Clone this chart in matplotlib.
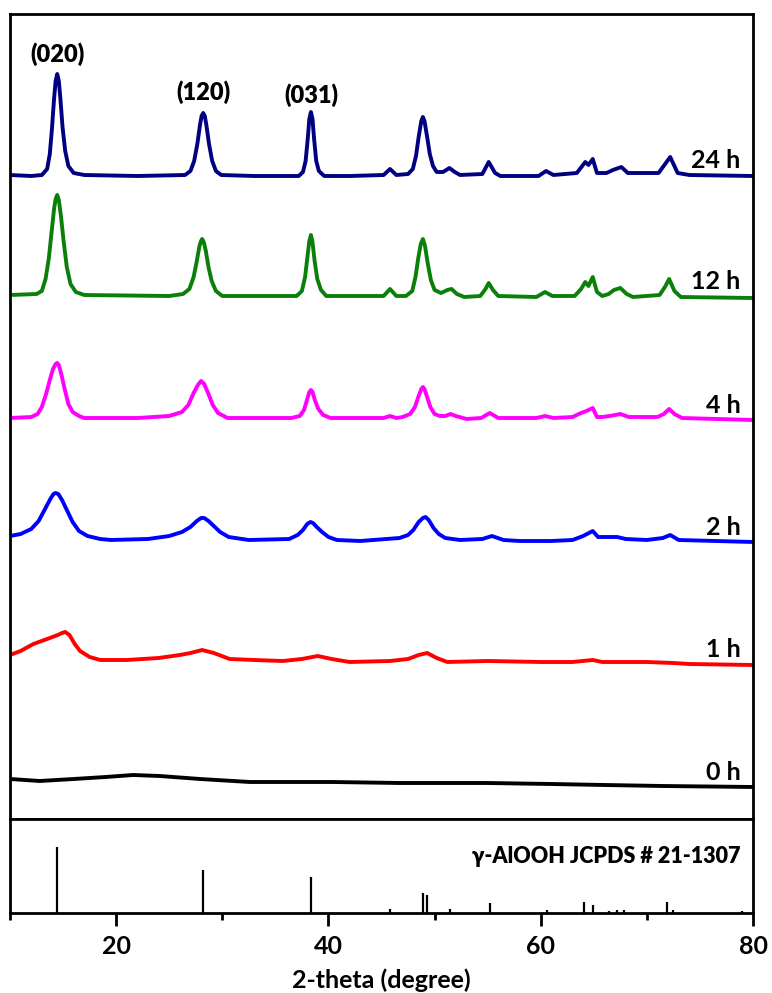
import matplotlib
matplotlib.use('Agg')
import matplotlib.pyplot as plt

plt.rcParams['font.family'] = ['Lato', 'DejaVu Sans']
plt.rcParams['font.weight'] = 'bold'

# ---------------- data ----------------
# 2-theta (degree) and stacked intensity (a.u., offsets included)
tt_24h = [10, 12.0, 13.0, 13.5, 13.75, 13.95, 14.15, 14.3, 14.45, 14.6, 14.75, 14.95, 15.2, 15.5, 16.0, 17.0, 22,
          26.5, 27.0, 27.35, 27.65, 27.9, 28.05, 28.2, 28.35, 28.5, 28.75, 29.05, 29.4, 29.9, 33,
          37.2, 37.6, 37.85, 38.05, 38.2, 38.35, 38.5, 38.65, 38.85, 39.1, 39.6, 42,
          45.2, 45.8, 46.4, 47.5, 47.95, 48.25, 48.5, 48.75, 48.9, 49.05, 49.3, 49.55, 49.85, 50.2,
          50.8, 51.4, 51.9, 52.4, 54.5, 55.1, 55.7, 56.2, 59.8, 60.5, 61.2,
          63.4, 64.2, 64.5, 64.9, 65.3, 66.2, 66.8, 67.6, 68.2, 71.1, 72.2, 72.9, 74, 80]
i_24h = [644, 643, 644, 650, 665, 690, 720, 738, 745, 738, 720, 692, 668, 653, 646, 644, 643,
         644, 648, 658, 675, 694, 703, 706, 703, 694, 675, 658, 648, 644, 643,
         643, 647, 658, 680, 700, 707, 700, 680, 658, 648, 643, 643,
         644, 650, 644, 645, 650, 663, 682, 698, 702, 698, 682, 665, 653, 647,
         647, 651, 647, 644, 645, 657, 646, 643, 643, 648, 644,
         646, 657, 654, 660, 646, 646, 649, 652, 646, 646, 662, 646, 644, 643]

tt_12h = [10, 12.5, 13.0, 13.35, 13.65, 13.9, 14.15, 14.3, 14.45, 14.6, 14.8, 15.05, 15.35, 15.7, 16.2, 17.0, 25,
          26.3, 26.9, 27.3, 27.6, 27.85, 28.0, 28.1, 28.25, 28.45, 28.7, 29.0, 29.4, 30.0,
          37.0, 37.5, 37.8, 38.0, 38.2, 38.35, 38.5, 38.7, 38.95, 39.3, 39.8,
          45.2, 45.8, 46.4, 47.3, 47.9, 48.2, 48.45, 48.7, 48.9, 49.1, 49.35, 49.65, 50.0,
          50.6, 51.2, 51.6, 52.1, 52.8, 54.3, 54.8, 55.1, 55.5, 56.0, 59.6, 60.4, 61.1,
          63.2, 63.8, 64.2, 64.5, 64.9, 65.3, 65.8, 66.4, 66.9, 67.5, 68.1, 68.7,
          71.2, 71.7, 72.1, 72.6, 73.2, 80]
i_12h = [524, 525, 528, 540, 560, 585, 610, 620, 624, 619, 603, 578, 552, 535, 527, 524, 523,
         525, 530, 542, 558, 573, 578, 580, 577, 568, 552, 538, 528, 523,
         523, 528, 542, 560, 578, 584, 577, 558, 540, 529, 523,
         523, 530, 523, 523, 528, 542, 560, 575, 580, 573, 556, 539, 529,
         526, 529, 530, 525, 522, 523, 530, 536, 529, 523, 522, 527, 523,
         523, 530, 537, 533, 542, 527, 523, 525, 529, 531, 525, 522,
         524, 532, 540, 528, 522, 521]

tt_4h = [10, 12.0, 12.6, 13.0, 13.4, 13.75, 14.05, 14.3, 14.45, 14.6, 14.85, 15.15, 15.5, 15.9, 16.5, 17.0, 22,
         25.0, 26.2, 26.8, 27.3, 27.7, 28.0, 28.3, 28.7, 29.1, 29.6, 30.5,
         36.5, 37.3, 37.7, 37.95, 38.2, 38.35, 38.5, 38.75, 39.05, 39.5, 40.2,
         45.2, 45.8, 46.4, 47.0, 47.7, 48.15, 48.5, 48.75, 48.9, 49.05, 49.3, 49.6, 50.0, 50.5,
         51.0, 51.5, 52.0, 53.0, 54.4, 55.2, 56.0, 59.6, 60.4, 61.2,
         63.0, 63.8, 64.3, 64.9, 65.3, 65.8, 66.5, 67.5, 68.3,
         71.0, 71.6, 72.1, 72.6, 73.3, 80]
i_4h = [401, 402, 405, 412, 425, 439, 450, 455, 456, 454, 444, 430, 415, 407, 403, 401, 401,
        403, 407, 414, 426, 434, 438, 435, 425, 414, 406, 401,
        401, 403, 409, 418, 427, 429, 427, 418, 410, 404, 401,
        401, 403, 401, 402, 405, 412, 423, 430, 432, 430, 422, 412, 405, 403,
        403, 405, 403, 400, 401, 406, 401, 401, 403, 401,
        402, 406, 408, 411, 402, 402, 403, 405, 402,
        402, 405, 410, 405, 401, 399]

tt_2h = [10, 11.0, 12.0, 12.7, 13.3, 13.8, 14.1, 14.3, 14.55, 14.9, 15.4, 15.9, 16.5, 17.3, 18.5, 19.5,
         23, 25.0, 26.2, 27.0, 27.6, 28.0, 28.3, 28.7, 29.2, 29.8, 30.6, 32.5,
         36.3, 37.1, 37.6, 38.0, 38.3, 38.55, 38.9, 39.4, 40.0, 40.8, 43, 46.7,
         47.5, 48.0, 48.5, 48.9, 49.15, 49.45, 49.9, 50.4, 51.0, 52.4, 54.5, 55.4, 56.5, 58, 61,
         63.0, 64.0, 64.9, 65.4, 66.2, 67.2, 68.0, 70, 71.5, 72.2, 73.0, 80]
i_2h = [283, 285, 290, 298, 310, 320, 325, 326, 325, 319, 308, 297, 288, 283, 280, 279,
        280, 283, 287, 292, 298, 301, 301, 298, 293, 287, 282, 279,
        280, 284, 289, 295, 297, 296, 292, 287, 282, 279, 278, 281,
        284, 289, 297, 301, 302, 299, 291, 285, 281, 279, 280, 283, 279, 278, 278,
        279, 283, 288, 282, 282, 282, 280, 279, 281, 284, 279, 277]

tt_1h = [10, 11.0, 12.2, 13.5, 14.5, 14.9, 15.2, 15.6, 16.1, 16.6, 17.5, 18.5, 21, 24, 26.0, 27.0, 28.1,
         29.2, 30.7, 33, 35.7, 37.5, 39.0, 40.3, 42, 45.8, 47.5, 48.5, 49.3, 50.2, 51.2,
         55, 60, 63, 64.9, 65.8, 70, 72.5, 74, 80]
i_1h = [164, 168, 175, 180, 184, 186, 187, 184, 175, 168, 162, 159, 159, 161, 164, 166, 169,
        166, 160, 159, 158, 160, 163, 160, 157, 158, 160, 164, 166, 161, 157,
        158, 157, 157, 159, 157, 157, 156, 155, 154]

tt_0h = [10, 12.8, 16, 19, 21.6, 24.1, 27.9, 32.6, 40.4, 46.7, 55, 61, 66, 71.5, 80]
i_0h = [40, 38, 40, 42, 44, 43, 40, 37, 37, 36, 36, 35, 34, 33, 32]

curves = [(tt_0h, i_0h), (tt_1h, i_1h), (tt_2h, i_2h),
          (tt_4h, i_4h), (tt_12h, i_12h), (tt_24h, i_24h)]
labels = ['0 h', '1 h', '2 h', '4 h', '12 h', '24 h']
label_y = [39, 162, 284, 406, 530, 651]
colors = ['black', '#ff0000', '#0000ff', '#ff00ff', '#0a800a', '#000080']

hkl = ['(020)', '(120)', '(031)']
hkl_x = [14.5, 28.2, 38.4]
hkl_y = [757, 719, 716]

# JCPDS 21-1307 reference lines
ref_pos = [14.45, 28.2, 38.35, 45.8, 48.9, 49.25, 51.5, 55.2, 60.6, 64.1, 64.9,
           66.4, 67.2, 67.8, 71.9, 72.5, 79.0]
ref_int = [66, 43, 36, 4, 20, 18, 4, 10, 3, 11, 8, 2, 3, 3, 11, 3, 2]

# ---------------- figure ----------------
fig = plt.figure(figsize=(7.72, 9.93), dpi=100)
ax = fig.add_axes([0.01295, 0.17523, 0.96245, 0.81067])
ax2 = fig.add_axes([0.01295, 0.08056, 0.96245, 0.09467])

for (x, y), c in zip(curves, colors):
    ax.plot(x, y, color=c, lw=2.8, solid_joinstyle='round')
for lab, ly in zip(labels, label_y):
    ax.text(78.8, ly, lab, ha='right', va='baseline', fontsize=18, fontweight='bold')
for lab, hx, hy in zip(hkl, hkl_x, hkl_y):
    ax.text(hx, hy, lab, ha='center', va='baseline', fontsize=17, fontweight='heavy')

ax.set_xlim(10, 80)
ax.set_ylim(0, 805)
ax.set_xticks([])
ax.set_yticks([])
for s in ax.spines.values():
    s.set_linewidth(2)

ax2.vlines(ref_pos, 0, ref_int, color='black', lw=1.6)
ax2.text(78.8, 50, 'γ-AlOOH JCPDS # 21-1307', ha='right', va='baseline',
         fontsize=15.5, fontweight='heavy', family=['Lato', 'DejaVu Sans'])
ax2.set_xlim(10, 80)
ax2.set_ylim(0, 94)
ax2.set_yticks([])
ax2.set_xticks([20, 40, 60, 80])
ax2.set_xticks([10, 30, 50, 70], minor=True)
ax2.tick_params(axis='x', which='major', direction='out', length=9.5, width=2,
                labelsize=18, pad=6)
ax2.tick_params(axis='x', which='minor', direction='out', length=5, width=2)
for t in ax2.get_xticklabels():
    t.set_fontweight('bold')
for s in ax2.spines.values():
    s.set_linewidth(2)
ax2.set_xlabel('2-theta (degree)', fontsize=18, fontweight='bold', labelpad=8)

fig.savefig('out.png', dpi=100)
